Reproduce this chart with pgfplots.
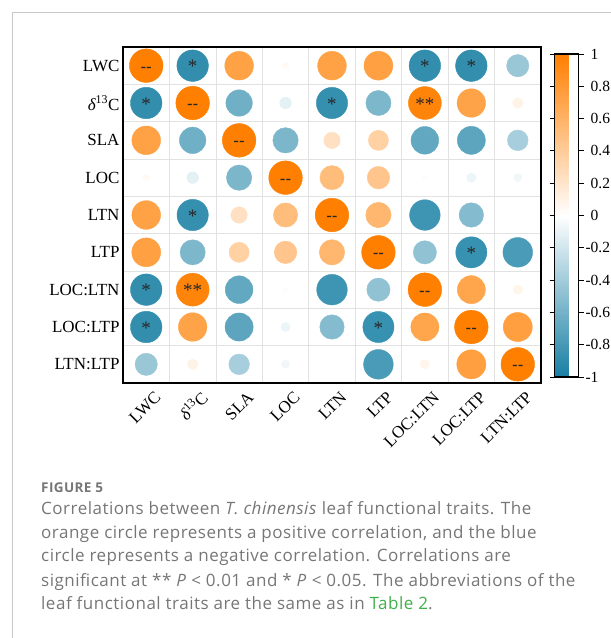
\documentclass[border=0pt]{standalone}
\usepackage{fontspec}
\setmainfont{Liberation Serif}
\newfontfamily\capfont[LetterSpace=3]{Open Sans}
\newfontfamily\dashfont{Liberation Sans}
\usepackage{pgfplots}
\usepackage{pgfplotstable}
\pgfplotsset{compat=1.18}

\definecolor{capgray}{RGB}{118,118,118}
\definecolor{capgreen}{RGB}{64,176,72}
\definecolor{gridgray}{RGB}{226,226,226}
\definecolor{framegray}{RGB}{200,200,200}

% Correlation matrix in long form: column (x), row (y), coefficient (r)
\pgfplotstableread{
x y r
1 1 1
2 1 -0.88
3 1 0.73
4 1 0.04
5 1 0.73
6 1 0.74
7 1 -0.88
8 1 -0.88
9 1 -0.44
1 2 -0.88
2 2 1
3 2 -0.62
4 2 -0.12
5 2 -0.87
6 2 -0.56
7 2 0.96
8 2 0.72
9 2 0.10
1 3 0.73
2 3 -0.62
3 3 1
4 3 -0.57
5 3 0.24
6 3 0.36
7 3 -0.68
8 3 -0.70
9 3 -0.38
1 4 0.04
2 4 -0.12
3 4 -0.57
4 4 1
5 4 0.52
6 4 0.45
7 4 -0.02
8 4 -0.08
9 4 -0.06
1 5 0.73
2 5 -0.87
3 5 0.24
4 5 0.52
5 5 1
6 5 0.57
7 5 -0.83
8 5 -0.53
9 5 0
1 6 0.74
2 6 -0.56
3 6 0.36
4 6 0.45
5 6 0.57
6 6 1
7 6 -0.48
8 6 -0.86
9 6 -0.78
1 7 -0.88
2 7 0.96
3 7 -0.68
4 7 -0.02
5 7 -0.83
6 7 -0.48
7 7 1
8 7 0.70
9 7 0.08
1 8 -0.88
2 8 0.72
3 8 -0.70
4 8 -0.08
5 8 -0.53
6 8 -0.86
7 8 0.70
8 8 1
9 8 0.75
1 9 -0.44
2 9 0.10
3 9 -0.38
4 9 -0.06
5 9 0
6 9 -0.78
7 9 0.08
8 9 0.75
9 9 1
}\corrdata

\begin{document}
\begin{tikzpicture}[x=1pt,y=1pt]
\useasboundingbox (0,0) rectangle (611,638);
\draw[framegray, line width=0.9pt] (12,0) -- (12,626) -- (611,626);

\begin{axis}[
  at={(123pt,255pt)}, anchor=south west,
  scale only axis, width=418pt, height=336pt,
  xmin=0.5, xmax=9.5, ymin=0.5, ymax=9.5,
  y dir=reverse,
  xtick={1,...,9}, ytick={1,...,9},
  xticklabels={LWC,{\itshape δ}\textsuperscript{13}C,SLA,LOC,LTN,LTP,LOC:LTN,LOC:LTP,LTN:LTP},
  yticklabels={LWC,{\itshape δ}\textsuperscript{13}C,SLA,LOC,LTN,LTP,LOC:LTN,LOC:LTP,LTN:LTP},
  major tick length=0pt, minor tick length=0pt,
  minor xtick={1.5,2.5,...,8.5}, minor ytick={1.5,2.5,...,8.5},
  xminorgrids, yminorgrids,
  minor grid style={gridgray, line width=0.7pt},
  axis line style={line width=1.5pt, black},
  ticklabel style={font=\fontsize{17}{17}\selectfont},
  xticklabel style={xshift=14pt, yshift=-9pt, rotate=45, anchor=east},
  colormap={corrmap}{rgb255(0cm)=(23,127,163) rgb255(1cm)=(255,255,255) rgb255(2cm)=(255,127,0)},
  point meta min=-1, point meta max=1,
  colorbar,
  colorbar style={
    at={(parent axis.north east)}, anchor=north west,
    xshift=5pt, yshift=-7pt,
    scale only axis, width=24pt, height=323pt,
    ytick={-1,-0.8,-0.6,-0.4,-0.2,0,0.2,0.4,0.6,0.8,1},
    yticklabels={\llap{-}1,\llap{-}0.8,\llap{-}0.6,\llap{-}0.4,\llap{-}0.2,0,0.2,0.4,0.6,0.8,1},
    yticklabel style={font=\fontsize{15.5}{16}\selectfont, inner sep=0pt, anchor=west, xshift=7pt},
    axis line style={line width=1.3pt, black},
    major tick length=5pt, tick align=outside,
    major tick style={black, line width=1pt},
    yticklabel pos=right,
  },
]
% circle area follows |r|; fill and outline share the mapped colour
\addplot[scatter, only marks, mark=*, scatter src=explicit,
  scatter/use mapped color={draw=mapped color, fill=mapped color},
  visualization depends on={16.8*sqrt(abs(\thisrow{r})) \as \rad},
  scatter/@pre marker code/.append style={/tikz/mark size=\rad}]
  table[x=x, y=y, meta=r] {\corrdata};

% diagonal entries
\addplot[only marks, mark=none, black,
  nodes near coords={\dashfont\fontsize{17}{17}\selectfont -{}-},
  every node near coord/.append style={anchor=center, yshift=-4pt, text=black!85}]
  coordinates {(1,1) (2,2) (3,3) (4,4) (5,5) (6,6) (7,7) (8,8) (9,9)};
% P < 0.05
\addplot[only marks, mark=none, black,
  nodes near coords={\fontsize{19}{19}\selectfont *},
  every node near coord/.append style={anchor=center, yshift=-1pt, text=black!85}]
  coordinates {(2,1) (1,2) (7,1) (1,7) (8,1) (1,8) (5,2) (2,5) (8,6) (6,8)};
% P < 0.01
\addplot[only marks, mark=none, black,
  nodes near coords={\fontsize{19}{19}\selectfont **},
  every node near coord/.append style={anchor=center, yshift=-1pt, text=black!85}]
  coordinates {(7,2) (2,7)};
\end{axis}

\begin{scope}[capgray, every node/.style={anchor=base west, inner sep=0pt}]
\node at (41,145) {\capfont\bfseries\fontsize{13.5}{13.5}\selectfont FIGURE 5};
\node at (41,123) {\capfont\fontsize{17}{17}\selectfont Correlations between \textit{T. chinensis} leaf functional traits. The};
\node at (41,99) {\capfont\fontsize{17}{17}\selectfont orange circle represents a positive correlation, and the blue};
\node at (41,76) {\capfont\fontsize{17}{17}\selectfont circle represents a negative correlation. Correlations are};
\node at (41,52) {\capfont\fontsize{17}{17}\selectfont significant at ** \textit{P} < 0.01 and * \textit{P} < 0.05. The abbreviations of the};
\node at (41,28) {\capfont\fontsize{17}{17}\selectfont leaf functional traits are the same as in \textcolor{capgreen}{Table 2}.};
\end{scope}
\end{tikzpicture}
\end{document}
